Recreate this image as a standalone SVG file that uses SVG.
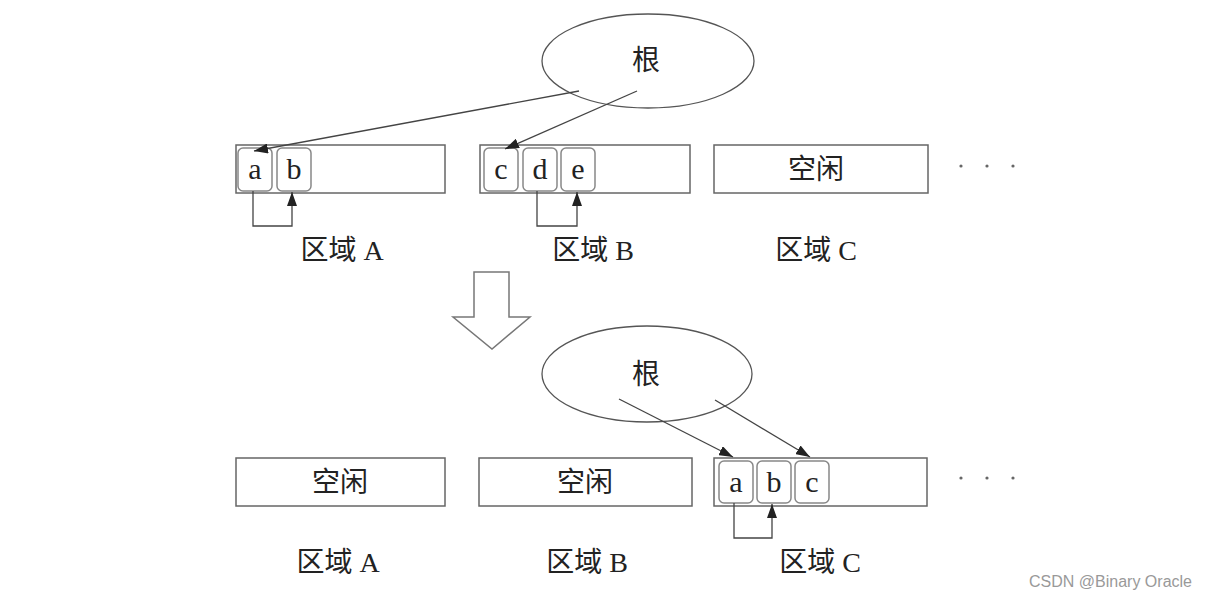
<svg xmlns="http://www.w3.org/2000/svg" width="1207" height="601" viewBox="0 0 1207 601">
<style>
.reg{fill:#fff;stroke:#666;stroke-width:1.5}
.cell{fill:#fff;stroke:#888;stroke-width:1.5}
.ell{fill:#fff;stroke:#555;stroke-width:1.3}
.t{font-family:"Liberation Serif","Noto Sans CJK SC",serif;fill:#222;text-anchor:middle}
.lt{font-size:30px}
.lb{font-size:28px}
.ct{font-size:28px}
.c{stroke:#444;stroke-width:1.3;fill:none}
.dot{fill:#666}
</style>
<defs>
<marker id="ah" viewBox="0 0 14 10" refX="14" refY="5" markerWidth="14" markerHeight="10" markerUnits="userSpaceOnUse" orient="auto"><path d="M0,0 L14,5 L0,10 z" fill="#222"/></marker>
</defs>
<rect width="1207" height="601" fill="#fff"/>

<g id="root-top"><ellipse class="ell" cx="648" cy="61" rx="106" ry="47"/><text class="t ct" x="646" y="70">根</text></g>

<g id="regionA-top"><rect class="reg" x="236" y="145" width="209" height="48"/>
<rect id="a1" class="cell" x="238" y="148" width="34" height="43" rx="5"/><text class="t lt" x="255" y="179">a</text>
<rect id="b1" class="cell" x="277" y="148" width="34" height="43" rx="5"/><text class="t lt" x="294" y="179">b</text></g>
<g id="regionB-top"><rect class="reg" x="480" y="145" width="210" height="48"/>
<rect class="cell" x="484" y="148" width="34" height="43" rx="5"/><text class="t lt" x="501" y="179">c</text>
<rect class="cell" x="523" y="148" width="34" height="43" rx="5"/><text class="t lt" x="540" y="179">d</text>
<rect class="cell" x="561" y="148" width="34" height="43" rx="5"/><text class="t lt" x="578" y="179">e</text></g>
<g id="regionC-top"><rect class="reg" x="714" y="145" width="214" height="48"/><text class="t ct" x="816" y="179">空闲</text></g>

<g id="labels-top">
<text class="t lb" x="342" y="260">区域 A</text>
<text class="t lb" x="593" y="260">区域 B</text>
<text class="t lb" x="816" y="260">区域 C</text>
</g>
<g id="dots-top"><circle class="dot" cx="961" cy="166" r="1.6"/><circle class="dot" cx="987" cy="166" r="1.6"/><circle class="dot" cx="1013" cy="166" r="1.6"/></g>

<g id="big-arrow"><path d="M474,272 L509,272 L509,317 L530,317 L492,349 L453,317 L474,317 Z" fill="#fff" stroke="#777" stroke-width="1.5"/></g>

<g id="root-bottom"><ellipse class="ell" cx="647" cy="374" rx="105" ry="48"/><text class="t ct" x="646" y="384">根</text></g>

<g id="regionA-bottom"><rect class="reg" x="236" y="458" width="209" height="48"/><text class="t ct" x="340" y="492">空闲</text></g>
<g id="regionB-bottom"><rect class="reg" x="479" y="458" width="213" height="48"/><text class="t ct" x="585" y="492">空闲</text></g>
<g id="regionC-bottom"><rect class="reg" x="714" y="458" width="213" height="48"/>
<rect class="cell" x="719" y="461" width="34" height="42" rx="5"/><text class="t lt" x="736" y="492">a</text>
<rect class="cell" x="757" y="461" width="34" height="42" rx="5"/><text class="t lt" x="774" y="492">b</text>
<rect class="cell" x="795" y="461" width="34" height="42" rx="5"/><text class="t lt" x="812" y="492">c</text></g>

<g id="labels-bottom">
<text class="t lb" x="338" y="572">区域 A</text>
<text class="t lb" x="587" y="572">区域 B</text>
<text class="t lb" x="820" y="572">区域 C</text>
</g>
<g id="dots-bottom"><circle class="dot" cx="961" cy="478" r="1.6"/><circle class="dot" cx="987" cy="478" r="1.6"/><circle class="dot" cx="1013" cy="478" r="1.6"/></g>

<g id="connectors">
<line class="c" x1="579" y1="91" x2="254" y2="151" marker-end="url(#ah)"/>
<line class="c" x1="637" y1="91" x2="505" y2="149" marker-end="url(#ah)"/>
<polyline class="c" points="253,191 253,226 292,226 292,192" marker-end="url(#ah)"/>
<polyline class="c" points="537,191 537,226 577,226 577,192" marker-end="url(#ah)"/>
<line class="c" x1="619" y1="399" x2="733" y2="457" marker-end="url(#ah)"/>
<line class="c" x1="715" y1="400" x2="810" y2="457" marker-end="url(#ah)"/>
<polyline class="c" points="734,503 734,538 772,538 772,504" marker-end="url(#ah)"/>
</g>

<text x="1192" y="587" font-family="Liberation Sans, Arial, sans-serif" font-size="16" fill="#999" text-anchor="end">CSDN @Binary Oracle</text>
</svg>
